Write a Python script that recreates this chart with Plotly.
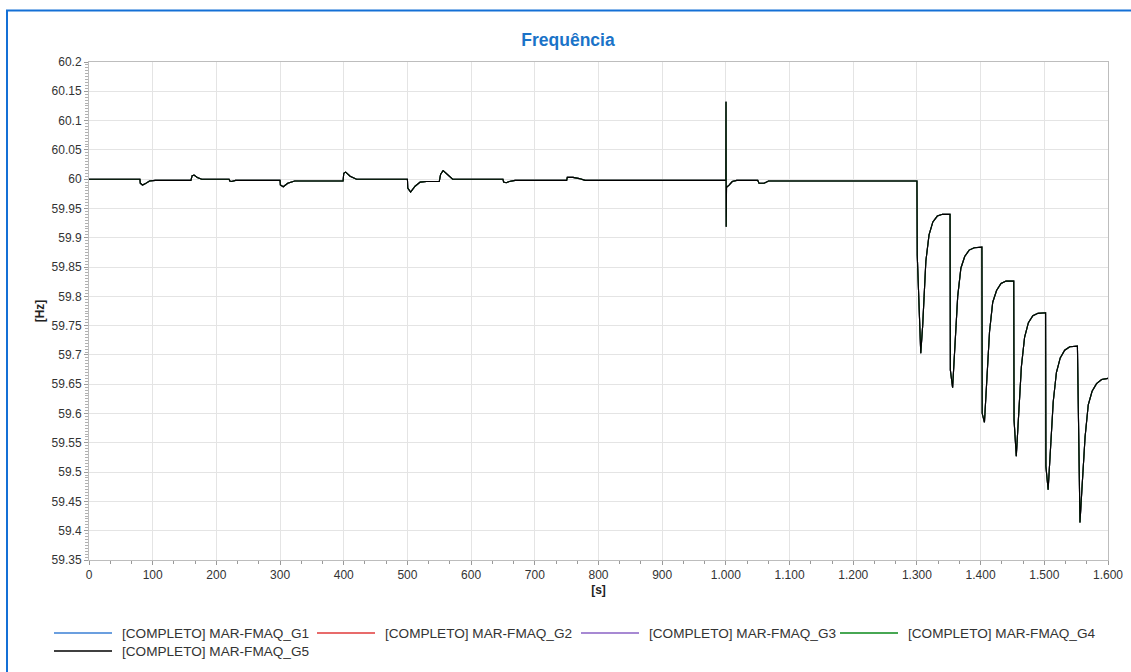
import plotly.graph_objects as go

# ---- data ----
series_names = [
    "[COMPLETO] MAR-FMAQ_G1",
    "[COMPLETO] MAR-FMAQ_G2",
    "[COMPLETO] MAR-FMAQ_G3",
    "[COMPLETO] MAR-FMAQ_G4",
    "[COMPLETO] MAR-FMAQ_G5",
]
series_colors = ["#3a7fd5", "#e03a3a", "#8a62c4", "#0a8a1a", "#000000"]

time_s = [
    0, 80, 80.5, 84, 88, 95, 104, 160, 162, 165, 170, 177, 220, 221, 224, 230,
    300, 300.5, 305, 312, 323, 399, 400, 403, 410, 420, 500, 500.5, 505, 512,
    520, 530, 550, 552, 556, 562, 571, 650, 651, 655, 660, 669, 750, 751, 760,
    770, 779, 1000, 1000.2, 1000.5, 1001, 1005, 1010, 1017, 1050, 1052, 1060,
    1067, 1300,
    1300.5, 1303, 1306, 1309, 1314, 1319, 1325, 1332, 1340, 1352,
    1352.5, 1356, 1359, 1364, 1369, 1375, 1382, 1390, 1402,
    1402.5, 1406, 1409, 1414, 1419, 1425, 1432, 1440, 1452,
    1452.5, 1456, 1459, 1464, 1469, 1475, 1482, 1490, 1502,
    1502.5, 1506, 1509, 1514, 1519, 1525, 1532, 1540, 1552,
    1552.5, 1554, 1556, 1559, 1564, 1569, 1575, 1582, 1590, 1600,
]
freq_hz = [
    60.0, 60.0, 59.993, 59.990, 59.992, 59.997, 59.998, 59.998, 60.006, 60.007,
    60.003, 60.0, 60.0, 59.997, 59.996, 59.998,
    59.998, 59.990, 59.987, 59.993, 59.997, 59.997, 60.010, 60.012, 60.005,
    60.0, 60.0, 59.985, 59.978, 59.988,
    59.995, 59.996, 59.996, 60.008, 60.0145, 60.008, 60.0, 60.0, 59.995,
    59.994, 59.996, 59.998, 59.998, 60.003, 60.003,
    60.001, 59.998, 59.998, 60.132, 59.919, 59.986, 59.990, 59.996, 59.998,
    59.998, 59.993, 59.993,
    59.997, 59.997,
    59.870, 59.800, 59.703, 59.750, 59.860, 59.905, 59.927, 59.937, 59.940, 59.940,
    59.674, 59.644, 59.700, 59.800, 59.848, 59.868, 59.879, 59.883, 59.884,
    59.600, 59.585, 59.640, 59.740, 59.790, 59.810, 59.822, 59.826, 59.826,
    59.589, 59.527, 59.580, 59.680, 59.730, 59.755, 59.767, 59.771, 59.772,
    59.510, 59.470, 59.530, 59.620, 59.670, 59.695, 59.708, 59.714, 59.715,
    59.678, 59.520, 59.414, 59.470, 59.560, 59.615, 59.638, 59.651, 59.658, 59.660,
]

x_tick_vals = [0, 100, 200, 300, 400, 500, 600, 700, 800, 900, 1000, 1100,
               1200, 1300, 1400, 1500, 1600]
x_tick_text = ["0", "100", "200", "300", "400", "500", "600", "700", "800", "900",
               "1.000", "1.100", "1.200", "1.300", "1.400", "1.500", "1.600"]
y_tick_vals = [59.35, 59.4, 59.45, 59.5, 59.55, 59.6, 59.65, 59.7, 59.75, 59.8,
               59.85, 59.9, 59.95, 60.0, 60.05, 60.1, 60.15, 60.2]
y_tick_text = [f"{v:g}" for v in y_tick_vals]

# ---- layout geometry (pixels) ----
W, H = 1131, 672
ML, MR, MT, MB = 89, 23, 62, 112
PW, PH = W - ML - MR, H - MT - MB


def px_x(p):
    return (p - ML) / PW


def px_y(p):
    return (H - MB - p) / PH


# ---- figure ----
fig = go.Figure()
for name, color in zip(series_names, series_colors):
    fig.add_trace(go.Scatter(
        x=time_s, y=freq_hz, mode="lines", name=name, showlegend=False,
        line=dict(color=color, width=1.1),
    ))

font_family = "Liberation Sans, Arial, sans-serif"
axis_common = dict(
    showline=True, linecolor="#bdbdbd", linewidth=1, mirror=True,
    showgrid=True, gridcolor="#e4e4e4", gridwidth=1,
    ticks="outside", ticklen=4, tickcolor="#9a9a9a",
    tickfont=dict(family=font_family, size=12, color="#333333"),
    zeroline=False, automargin=False,
)

fig.update_layout(
    width=W, height=H,
    margin=dict(l=ML, r=MR, t=MT, b=MB, autoexpand=False),
    paper_bgcolor="white", plot_bgcolor="white",
    font=dict(family=font_family, size=12, color="#333333"),
    title=dict(text="<b>Frequência</b>", x=(568 / W), xref="container", xanchor="center",
               y=1 - 40 / H, yref="container", yanchor="middle",
               font=dict(family=font_family, size=17.5, color="#1a73c8")),
    xaxis=dict(range=[0, 1600], tickvals=x_tick_vals, ticktext=x_tick_text,
               title=dict(text="<b>[s]</b>", standoff=4,
                          font=dict(family=font_family, size=12, color="#222222")),
               minor=dict(dtick=100 / 3, ticks="outside", ticklen=3,
                          tickcolor="#9a9a9a", showgrid=False),
               **axis_common),
    yaxis=dict(range=[59.35, 60.2], tickvals=y_tick_vals, ticktext=y_tick_text,
               title=dict(text="<b>[Hz]</b>", standoff=4,
                          font=dict(family=font_family, size=12, color="#222222")),
               minor=dict(dtick=0.005, tick0=59.35, ticks="outside", ticklen=3,
                          tickcolor="#b0b0b0", showgrid=False),
               **axis_common),
    showlegend=False,
)

# blue outer frame
fig.add_shape(type="rect", xref="paper", yref="paper",
              x0=px_x(7), x1=px_x(1140), y0=px_y(690), y1=px_y(10.5),
              line=dict(color="#1470d6", width=2), fillcolor="rgba(0,0,0,0)",
              layer="below")

# manual legend (two rows, four columns)
legend_line_x = [54, 317, 581, 840]
legend_rows_y = [633, 651]
for i, (name, color) in enumerate(zip(series_names, series_colors)):
    row, col = divmod(i, 4)
    lx = legend_line_x[col]
    ly = legend_rows_y[row]
    fig.add_shape(type="line", xref="paper", yref="paper",
                  x0=px_x(lx), x1=px_x(lx + 58), y0=px_y(ly), y1=px_y(ly),
                  line=dict(color=color, width=1.3))
    fig.add_annotation(text=name, xref="paper", yref="paper",
                       x=px_x(lx + 66), y=px_y(ly), xanchor="left", yanchor="middle",
                       showarrow=False,
                       font=dict(family=font_family, size=13.6, color="#333333"))

fig.write_html(
    "out.html",
    config={"displayModeBar": False},
    post_script="document.body.style.margin='0';document.body.style.overflow='hidden';",
)
